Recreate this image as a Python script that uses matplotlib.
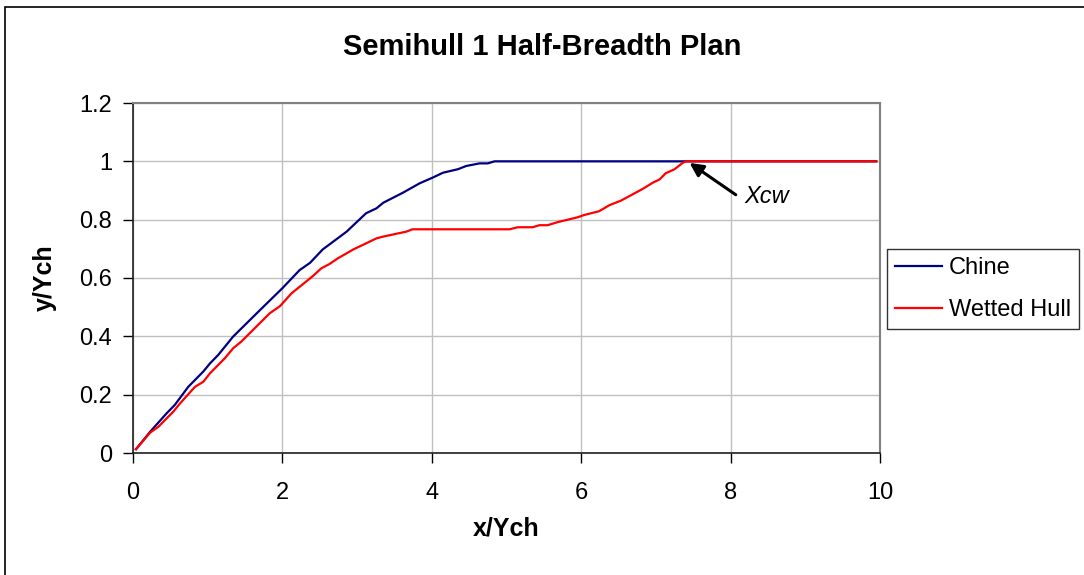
import matplotlib.pyplot as plt
from matplotlib.patches import Rectangle

plt.rcParams['font.family'] = ['Liberation Sans', 'DejaVu Sans']

# values
chine_x = [0.04, 0.23, 0.45, 0.56, 0.74, 0.94, 1.03, 1.14, 1.34, 1.70, 2.00, 2.23, 2.37,
           2.54, 2.86, 3.12, 3.26, 3.35, 3.61, 3.84, 4.01, 4.15, 4.35, 4.46, 4.64, 4.75,
           4.84, 9.95]
chine_y = [0.013, 0.073, 0.136, 0.165, 0.227, 0.279, 0.307, 0.336, 0.399, 0.490, 0.565,
           0.627, 0.652, 0.698, 0.759, 0.822, 0.839, 0.858, 0.892, 0.925, 0.944, 0.961,
           0.973, 0.984, 0.993, 0.993, 1.0, 1.0]

wet_x = [0.04, 0.23, 0.34, 0.54, 0.63, 0.83, 0.94, 1.03, 1.23, 1.34, 1.45, 1.83, 1.97,
         2.12, 2.41, 2.52, 2.63, 2.74, 2.95, 3.26, 3.35, 3.66, 3.74, 5.04, 5.15, 5.35,
         5.44, 5.55, 5.69, 5.95, 6.04, 6.24, 6.38, 6.53, 6.69, 6.82, 6.96, 7.05, 7.13,
         7.25, 7.36, 7.41, 9.95]
wet_y = [0.013, 0.070, 0.090, 0.142, 0.170, 0.227, 0.244, 0.273, 0.325, 0.359, 0.382,
         0.479, 0.504, 0.547, 0.607, 0.633, 0.648, 0.667, 0.698, 0.736, 0.742, 0.759,
         0.767, 0.767, 0.774, 0.774, 0.781, 0.781, 0.792, 0.808, 0.816, 0.829, 0.850,
         0.865, 0.887, 0.905, 0.927, 0.938, 0.959, 0.973, 0.995, 1.0, 1.0]

fig = plt.figure(figsize=(10.84, 5.75), dpi=100)
ax = fig.add_axes([133/1084, 1-453/575, (880-133)/1084, (453-103)/575])

ax.plot(chine_x, chine_y, color='#000080', lw=1.6, label='Chine')
ax.plot(wet_x, wet_y, color='#FF0000', lw=1.6, label='Wetted Hull')

ax.set_xlim(0, 10)
ax.set_ylim(0, 1.2)
ax.set_xticks([0, 2, 4, 6, 8, 10])
ax.set_yticks([0, 0.2, 0.4, 0.6, 0.8, 1, 1.2])
ax.set_yticklabels(['0', '0.2', '0.4', '0.6', '0.8', '1', '1.2'])
ax.grid(True, color='#c0c0c0', lw=1)
ax.set_axisbelow(True)
ax.tick_params(axis='both', labelsize=17, length=7, width=1, color='black')
ax.tick_params(axis='x', pad=14)
ax.tick_params(axis='y', pad=8)

for s in ['left', 'bottom']:
    ax.spines[s].set_color('#202020')
    ax.spines[s].set_linewidth(1.2)
for s in ['top', 'right']:
    ax.spines[s].set_color('#808080')
    ax.spines[s].set_linewidth(1.5)

ax.set_xlabel('x/Ych', fontsize=18, fontweight='bold', labelpad=9)
ax.set_ylabel('y/Ych', fontsize=18, fontweight='bold', labelpad=16)
fig.text(0.5, 1-47/575, 'Semihull 1 Half-Breadth Plan', ha='center', va='center',
         fontsize=21, fontweight='bold')

ax.annotate('', xy=(7.42, 1.0), xytext=(8.1, 0.88),
            arrowprops=dict(arrowstyle='-|>', color='black', lw=2.2, mutation_scale=20))
ax.text(8.18, 0.878, 'Xcw', fontsize=17, style='italic', va='center', ha='left')

leg = ax.legend(loc='center left', bbox_to_anchor=(887/1084, 1-289/575),
                bbox_transform=fig.transFigure, fontsize=17, frameon=True,
                fancybox=False, edgecolor='black', handlelength=2.0,
                handletextpad=0.28, borderaxespad=0, labelspacing=0.85, borderpad=0.33)
leg.get_frame().set_linewidth(1)

fig.patches.append(Rectangle((5/1084, -0.1), 1.2, 1-7/575+0.1, transform=fig.transFigure,
                             fill=False, ec='black', lw=1.2))

fig.savefig('out.png', dpi=100)
